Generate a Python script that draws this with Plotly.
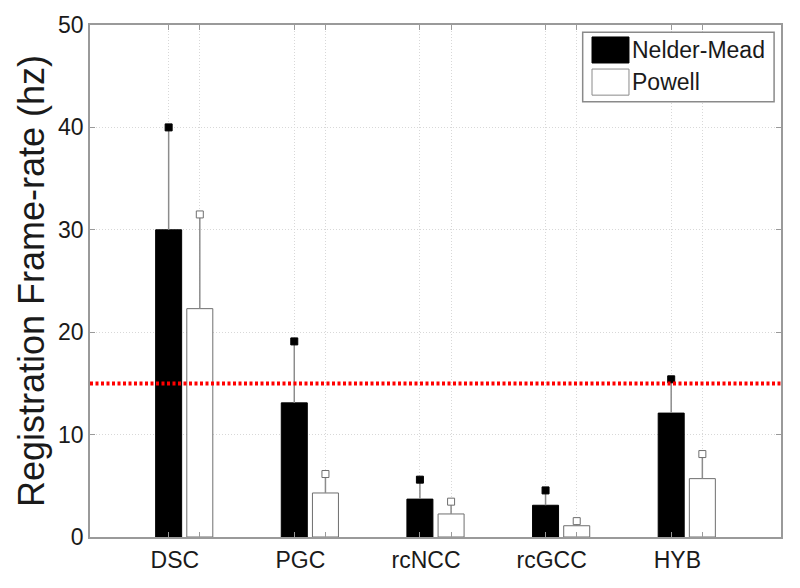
import plotly.graph_objects as go

# ---- data ----
categories = ["DSC", "PGC", "rcNCC", "rcGCC", "HYB"]
series_names = ["Nelder-Mead", "Powell"]
nm_mean = [30.0, 13.1, 3.7, 3.1, 12.1]
nm_err = [10.0, 6.0, 1.9, 1.45, 3.3]
pw_mean = [22.3, 4.3, 2.25, 1.1, 5.7]
pw_err = [9.2, 1.85, 1.2, 0.45, 2.4]
threshold = 15
y_ticks = [0, 10, 20, 30, 40, 50]

# ---- styling ----
FONT = "Liberation Sans, Arial, Helvetica, sans-serif"
GRAY_AX = "#9a9a9a"
GRID = "#d8d8d8"
ERR = "#8c8c8c"
OFF = 0.124
BW = 0.207
TICK_SIZE = 23
X_RANGE = [0.25, 5.75]
LABEL_SHIFT = 0.075

idx = list(range(1, len(categories) + 1))
x_nm = [i - OFF for i in idx]
x_pw = [i + OFF for i in idx]
nm_top = [m + e for m, e in zip(nm_mean, nm_err)]
pw_top = [m + e for m, e in zip(pw_mean, pw_err)]

fig = go.Figure()

fig.add_trace(go.Bar(
    x=x_nm, y=nm_mean, width=BW, name=series_names[0],
    marker=dict(color="black", line=dict(color="black", width=1)),
    error_y=dict(type="data", symmetric=False, array=nm_err,
                 arrayminus=[0] * len(nm_err), width=0, color=ERR, thickness=1.5),
    showlegend=False,
))
fig.add_trace(go.Bar(
    x=x_pw, y=pw_mean, width=BW, name=series_names[1],
    marker=dict(color="white", line=dict(color="#6e6e6e", width=1)),
    error_y=dict(type="data", symmetric=False, array=pw_err,
                 arrayminus=[0] * len(pw_err), width=0, color=ERR, thickness=1.5),
    showlegend=False,
))
fig.add_trace(go.Scatter(
    x=x_nm, y=nm_top, mode="markers", showlegend=False,
    marker=dict(symbol="square", size=7, color="black", line=dict(color="black", width=1)),
))
fig.add_trace(go.Scatter(
    x=x_pw, y=pw_top, mode="markers", showlegend=False,
    marker=dict(symbol="square", size=7, color="white", line=dict(color="#6e6e6e", width=1)),
))
# invisible trace to activate xaxis2 (category labels)
fig.add_trace(go.Scatter(x=idx, y=[None] * len(idx), xaxis="x2", showlegend=False,
                         hoverinfo="skip", mode="markers"))

fig.add_hline(y=threshold, line=dict(color="#ff0000", width=4, dash="3px,2.5px"))

# the page body adds an 8px offset; figure is sized to compensate
fig.update_layout(
    width=792, height=580,
    margin=dict(l=82, r=19, t=17, b=51),
    paper_bgcolor="white", plot_bgcolor="white",
    barmode="overlay",
    font=dict(family=FONT, color="#1a1a1a", size=TICK_SIZE),
    xaxis=dict(
        range=X_RANGE, tickvals=x_nm + x_pw, showticklabels=False,
        ticks="inside", ticklen=5, tickcolor=GRAY_AX, tickwidth=1,
        showgrid=True, gridcolor=GRID, griddash="1px,2px", gridwidth=1,
        showline=True, linecolor=GRAY_AX, linewidth=1.5, mirror="ticks",
        zeroline=False, automargin=False,
    ),
    xaxis2=dict(
        range=[X_RANGE[0] + LABEL_SHIFT, X_RANGE[1] + LABEL_SHIFT],
        overlaying="x", side="bottom", tickvals=idx,
        ticktext=categories, showgrid=False, showline=False, zeroline=False,
        ticks="outside", ticklen=2, tickcolor="rgba(0,0,0,0)", automargin=False,
        tickfont=dict(size=TICK_SIZE, family=FONT, color="#1a1a1a"),
    ),
    yaxis=dict(
        range=[0, 50], tickvals=y_ticks, ticks="inside", ticklen=5,
        tickcolor=GRAY_AX, showgrid=True, gridcolor=GRID, griddash="1px,2px",
        showline=True, linecolor=GRAY_AX, linewidth=1.5, mirror="ticks",
        zeroline=False, tickfont=dict(size=TICK_SIZE), automargin=False,
        title=dict(text="Registration Frame-rate (hz)", font=dict(size=36), standoff=2),
    ),
)

# ---- legend (box, swatches, labels) ----
fig.add_shape(type="rect", xref="paper", yref="paper", x0=0.713, x1=0.990, y0=0.850, y1=0.986,
              line=dict(color="#8a8a8a", width=1.5), fillcolor="white", layer="above")
fig.add_shape(type="rect", xref="paper", yref="paper", x0=0.7265, x1=0.780, y0=0.9258, y1=0.9766,
              line=dict(color="black", width=1), fillcolor="black", layer="above")
fig.add_shape(type="rect", xref="paper", yref="paper", x0=0.7265, x1=0.780, y0=0.863, y1=0.914,
              line=dict(color="#8a8a8a", width=1), fillcolor="white", layer="above")
for name, yc in zip(series_names, [0.951, 0.889]):
    fig.add_annotation(xref="paper", yref="paper", x=0.782, y=yc, text=name, showarrow=False,
                       xanchor="left", yanchor="middle",
                       font=dict(size=TICK_SIZE, family=FONT, color="#1a1a1a"))

fig.write_html("out.html")
